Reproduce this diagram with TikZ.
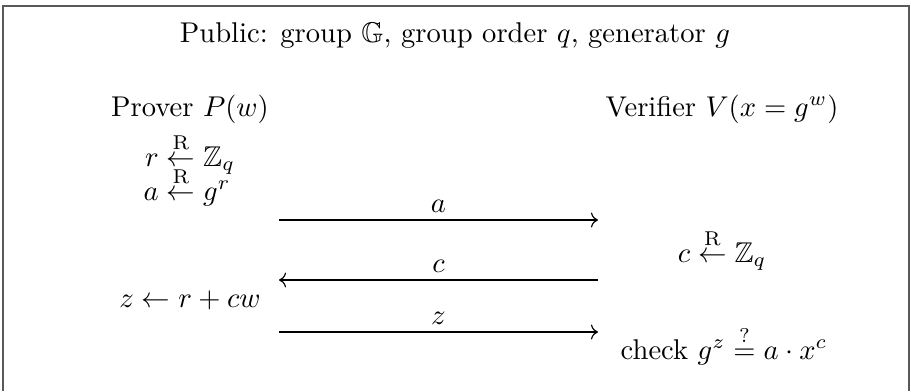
\documentclass[tikz,border=0pt]{standalone}
\usepackage{amsmath}
\usepackage{amssymb}
\usetikzlibrary{arrows.meta, positioning}

\newcommand{\rnd}{\overset{\mathrm{R}}{\leftarrow}}

\begin{document}
\begin{tikzpicture}[x=0.35pt, y=-0.35pt, msg/.style={line width=0.4pt}, lbl/.style={inner sep=2.3pt}, every node/.style={anchor=base}]
\useasboundingbox (0,0) rectangle (911,391);
% open frame
\draw[black!65, line width=0.6pt] (3,391) -- (3,6) -- (909,6) -- (909,391);
\node (pub) at (455,43) {Public: group $\mathbb{G}$, group order $q$, generator $g$};
% parties
\node (prv) at (190,116) {Prover $P(w)$};
\node (vrf) at (722,116) {Verifier $V(x = g^w)$};
% prover steps
\node (rr) at (190,166) {$r \rnd \mathbb{Z}_q$};
\node (aa) at (187,200) {$a \rnd g^r$};
\node (zz) at (190,307) {$z \leftarrow r + cw$};
% verifier steps
\node (cc) at (722,262) {$c \rnd \mathbb{Z}_q$};
\node (chk) at (724,359) {check $g^z \stackrel{?}{=} a \cdot x^c$};
% message ends
\coordinate (a1) at (279,220); \coordinate (a2) at (598,220);
\coordinate (c1) at (598,280); \coordinate (c2) at (279,280);
\coordinate (z1) at (279,332); \coordinate (z2) at (598,332);
\draw[msg,->] (a1) -- node[lbl, above] (la) {$a$} (a2);
\draw[msg,->] (c1) -- node[lbl, above] (lc) {$c$} (c2);
\draw[msg,->] (z1) -- node[lbl, above] (lz) {$z$} (z2);
\end{tikzpicture}
\end{document}
